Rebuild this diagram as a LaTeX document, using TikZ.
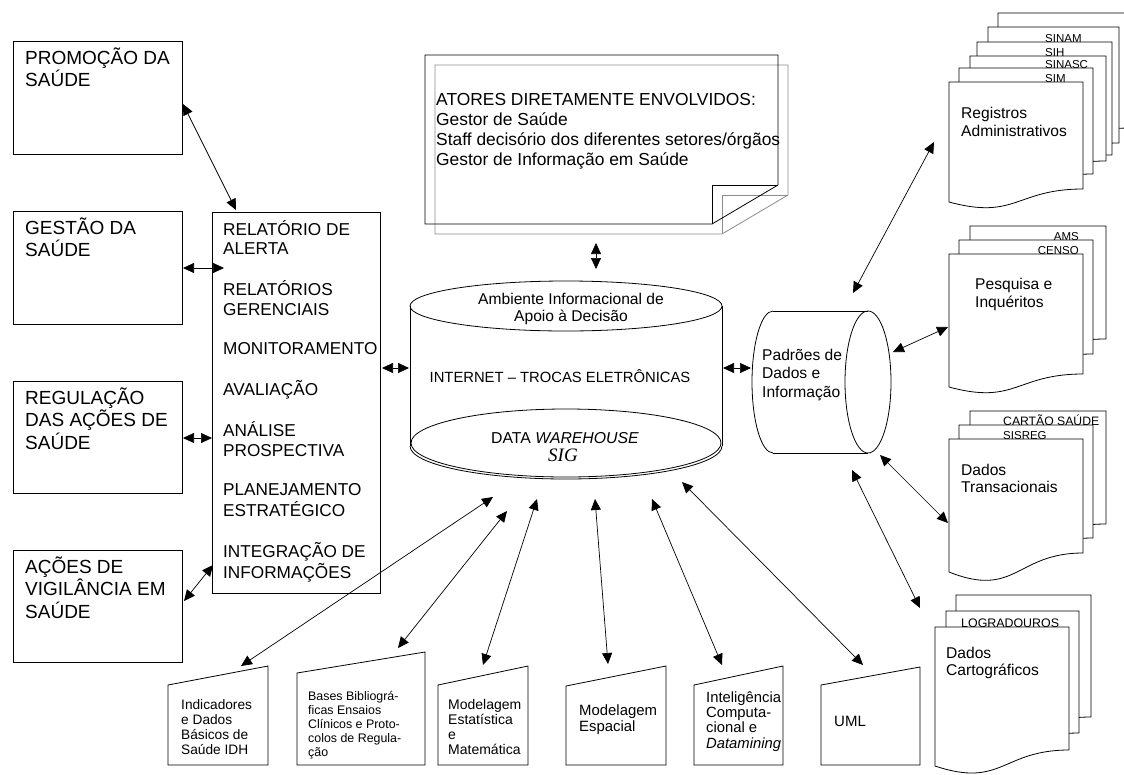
\documentclass[tikz,border=0pt]{standalone}
\usepackage{fontspec}
\setmainfont{Liberation Sans}
\newfontfamily\serifit{Liberation Serif}
\usetikzlibrary{arrows.meta}

\newcommand\fs[2]{\fontsize{#1}{#2}\selectfont}
% multi-line text whose reference point is the baseline of its first line
\newcommand\stack[1]{\begin{tabular}[t]{@{}l@{}}#1\end{tabular}}
\newcommand\cstack[1]{\begin{tabular}[t]{@{}c@{}}#1\end{tabular}}

% one page of a document stack: left, top, right, bottom of right edge, drop of the wavy edge
\newcommand\docpage[5]{%
  \filldraw[page] (#1,#2) -- (#3,#2) -- (#3,#4)
    .. controls ({0.5*(#1+#3)},#4) and ({0.5*(#1+#3)},{#4+2.4*#5}) .. (#1,{#4+#5}) -- cycle;}

% manual-input box: left, top at left, right, top at right, bottom
\newcommand\inputbox[5]{%
  \filldraw[page] (#1,#2) -- (#3,#4) -- (#3,#5) -- (#1,#5) -- cycle;}

\tikzset{
  box/.style={draw, line width=0.8pt, fill=white, inner sep=0pt, anchor=north west},
  txt/.style={inner sep=0pt, anchor=base west},
  ctxt/.style={inner sep=0pt, anchor=base},
  page/.style={fill=white, draw=black, line width=0.8pt},
  outline/.style={draw=black, line width=0.8pt},
  shade/.style={draw=black!45, line width=0.8pt},
  dbl/.style={{Triangle[length=11pt,width=10pt]}-{Triangle[length=11pt,width=10pt]}, line width=0.7pt},
  big/.style={font=\fs{19}{21}},
  listfont/.style={font=\fs{17.2}{19.8}},
  small/.style={font=\fs{11.5}{13}},
}

\begin{document}
\begin{tikzpicture}[x=1pt, y=-1pt]
\useasboundingbox (0,0) rectangle (1124,774);
\fill[white] (0,0) rectangle (1124,774);

% ---------- left column of areas ----------
\node[box, minimum width=169pt, minimum height=113pt] (promo) at (13,41) {};
\node[box, minimum width=169pt, minimum height=113pt] (gestao) at (13,211) {};
\node[box, minimum width=169pt, minimum height=112pt] (regul) at (13,381) {};
\node[box, minimum width=169pt, minimum height=112pt] (acoes) at (13,550) {};
\node[txt, big] (promo-t) at (25,64) {\stack{PROMOÇÃO DA\\SAÚDE}};
\node[txt, big] (gestao-t) at (25,234) {\stack{GESTÃO DA\\SAÚDE}};
\node[txt, big] (regul-t) at (25,404) {\stack{REGULAÇÃO\\DAS AÇÕES DE\\SAÚDE}};
\node[txt, big] (acoes-t) at (25,573) {\stack{AÇÕES DE\\VIGILÂNCIA EM\\SAÚDE}};

% ---------- list of products ----------
\node[box, minimum width=168pt, minimum height=381pt] (lista) at (212,212) {};
\node[txt, listfont] (lista-t) at (223,235) {\stack{RELATÓRIO DE\\ALERTA\\ \\RELATÓRIOS\\GERENCIAIS\\ \\MONITORAMENTO\\ \\AVALIAÇÃO\\ \\ANÁLISE\\PROSPECTIVA\\ \\PLANEJAMENTO\\ESTRATÉGICO\\ \\INTEGRAÇÃO DE\\INFORMAÇÕES}};

% ---------- actors note (folded corner with grey shadow) ----------
\path[shade] (435,65) -- (788,65) -- (788,195) -- (722,234) -- (435,234) -- cycle;
\path[shade] (722,234) -- (722,195) -- (788,195);
\path[outline] (425,55) -- (778,55) -- (778,185) -- (712,224) -- (425,224) -- cycle;
\path[outline] (712,224) -- (712,185) -- (778,185);
\node[txt, font=\fs{17.4}{20}] (atores) at (436,105) {\stack{ATORES DIRETAMENTE ENVOLVIDOS:\\Gestor de Saúde\\Staff decisório dos diferentes setores/órgãos\\Gestor de Informação em Saúde}};

% ---------- central repository (cylinder) ----------
\draw[line width=0.8pt] (410,306) -- (410,446);
\draw[line width=0.8pt] (722,306) -- (722,446);
\draw[line width=0.8pt] (566,306) ellipse [x radius=156pt, y radius=25pt];
\draw[line width=0.8pt] (410,446) arc [start angle=180, end angle=360, x radius=156pt, y radius=33pt];
\draw[line width=0.8pt] (566,443) ellipse [x radius=155pt, y radius=34pt];
\node[ctxt, font=\fs{15.6}{17}] (amb) at (571,304) {\cstack{Ambiente Informacional de\\Apoio à Decisão}};
\node[ctxt, font=\fs{14.8}{17}] (internet) at (560,382) {INTERNET – TROCAS ELETRÔNICAS};
\node[ctxt, font=\fs{15.8}{18}] (dw) at (565,443) {DATA \textit{WAREHOUSE}};
\node[ctxt, font=\fs{19}{20}\serifit\itshape] (sig) at (563,461) {SIG};

% ---------- data standards (horizontal drum) ----------
\draw[line width=0.8pt] (773,311) -- (868,311);
\draw[line width=0.8pt] (773,453) -- (868,453);
\draw[line width=0.8pt] (773,311) arc [start angle=90, end angle=270, x radius=21pt, y radius=71pt];
\draw[line width=0.8pt] (868,382) ellipse [x radius=23pt, y radius=71pt];
\node[txt, font=\fs{15.6}{18.5}] (padroes) at (762,360) {\stack{Padrões de\\Dados e\\Informação}};

% ---------- administrative records ----------
\docpage{998}{13}{1130}{128}{13}
\docpage{988}{27}{1119}{143}{13}
\node[txt, small] (sinam) at (1045,42) {SINAM};
\docpage{977}{42}{1112}{155}{13}
\node[txt, small] (sih) at (1045,56) {SIH};
\docpage{970}{56}{1106}{161}{13}
\node[txt, small] (sinasc) at (1045,68) {SINASC};
\docpage{959}{68}{1093}{174}{13}
\node[txt, small] (sim) at (1045,82) {SIM};
\docpage{949}{82}{1083}{189}{13}
\node[txt, font=\fs{15.6}{18}] (registros) at (961,118) {\stack{Registros\\Administrativos}};

% ---------- surveys ----------
\docpage{970}{226}{1106}{339}{13}
\node[inner sep=0pt, anchor=base east, small] (ams) at (1079,240) {AMS};
\docpage{959}{240}{1093}{354}{13}
\node[inner sep=0pt, anchor=base east, small] (censo) at (1079,254) {CENSO};
\docpage{949}{254}{1083}{374}{13}
\node[txt, font=\fs{15.6}{18}] (pesquisa) at (975,289) {\stack{Pesquisa e\\Inquéritos}};

% ---------- transactional data ----------
\docpage{970}{411}{1106}{524}{15}
\node[txt, font=\fs{12.2}{13}] (cartao) at (1003,425) {CARTÃO SAÚDE};
\docpage{959}{425}{1093}{538}{15}
\node[txt, small] (sisreg) at (1003,439) {SISREG};
\docpage{949}{439}{1083}{553}{19}
\node[txt, font=\fs{15.6}{17}] (transac) at (961,475) {\stack{Dados\\Transacionais}};

% ---------- cartographic data ----------
\docpage{956}{595}{1091}{717}{15}
\docpage{946}{611}{1079}{733}{15}
\node[txt, font=\fs{12.4}{13}] (lograd) at (961,627) {LOGRADOUROS};
\docpage{935}{627}{1069}{750}{16}
\node[txt, font=\fs{15.6}{17}] (cartog) at (946,658) {\stack{Dados\\Cartográficos}};

% ---------- methods and sources along the bottom ----------
\inputbox{168}{685}{268}{666}{765}
\node[txt, font=\fs{13.7}{15.2}] (indic) at (181,709) {\stack{Indicadores\\e Dados\\Básicos de\\Saúde IDH}};
\inputbox{297}{673}{425}{652}{765}
\node[txt, font=\fs{12.4}{14}] (bases) at (308,700) {\stack{Bases Bibliográ-\\ficas Ensaios\\Clínicos e Proto-\\colos de Regula-\\ção}};
\inputbox{438}{685}{528}{666}{765}
\node[txt, font=\fs{14}{15}] (estat) at (448,709) {\stack{Modelagem\\Estatística\\e\\Matemática}};
\inputbox{566}{686}{666}{666}{765}
\node[txt, font=\fs{14.9}{16}] (espacial) at (579,715) {\stack{Modelagem\\Espacial}};
\inputbox{694}{685}{783}{666}{765}
\node[txt, font=\fs{14.8}{15.4}] (intel) at (706,702) {\stack{Inteligência\\Computa-\\cional e\\\textit{Datamining}}};
\inputbox{821}{685}{920}{667}{765}
\node[txt, font=\fs{15}{16}] (uml) at (834,726) {UML};

% ---------- connector end points ----------
\coordinate (promo-r) at (183,104);
\coordinate (lista-top) at (236,210);
\coordinate (gestao-r) at (183,268);
\coordinate (lista-g) at (224,268);
\coordinate (regul-r) at (183,438);
\coordinate (lista-r) at (212,438);
\coordinate (acoes-r) at (184,601);
\coordinate (lista-a) at (213,565);
\coordinate (lista-e) at (382,368);
\coordinate (cyl-w) at (409,368);
\coordinate (atores-s) at (596,243);
\coordinate (cyl-n) at (596,269);
\coordinate (cyl-e) at (723,368);
\coordinate (padroes-w) at (751,368);
\coordinate (padroes-n) at (853,293);
\coordinate (registros-w) at (934,142);
\coordinate (padroes-e) at (893,352);
\coordinate (pesquisa-w) at (948,327);
\coordinate (padroes-se) at (880,455);
\coordinate (transac-w) at (948,523);
\coordinate (padroes-s) at (852,470);
\coordinate (cartog-w) at (920,608);
\coordinate (cyl-s1) at (493,497);
\coordinate (indic-n) at (241,666);
\coordinate (cyl-s2) at (507,511);
\coordinate (bases-n) at (398,648);
\coordinate (cyl-s3) at (537,499);
\coordinate (estat-n) at (483,665);
\coordinate (cyl-s4) at (595,499);
\coordinate (espacial-n) at (608,664);
\coordinate (cyl-s5) at (652,499);
\coordinate (intel-n) at (722,665);
\coordinate (cyl-s6) at (682,482);
\coordinate (uml-n) at (863,665);

% ---------- connectors ----------
\draw[dbl] (promo-r) -- (lista-top);
\draw[dbl] (gestao-r) -- (lista-g);
\draw[dbl] (regul-r) -- (lista-r);
\draw[dbl] (acoes-r) -- (lista-a);
\draw[dbl] (lista-e) -- (cyl-w);
\draw[dbl] (atores-s) -- (cyl-n);
\draw[dbl] (cyl-e) -- (padroes-w);
\draw[dbl] (padroes-n) -- (registros-w);
\draw[dbl] (padroes-e) -- (pesquisa-w);
\draw[dbl] (padroes-se) -- (transac-w);
\draw[dbl] (padroes-s) -- (cartog-w);
\draw[dbl] (cyl-s1) -- (indic-n);
\draw[dbl] (cyl-s2) -- (bases-n);
\draw[dbl] (cyl-s3) -- (estat-n);
\draw[dbl] (cyl-s4) -- (espacial-n);
\draw[dbl] (cyl-s5) -- (intel-n);
\draw[dbl] (cyl-s6) -- (uml-n);
\end{tikzpicture}
\end{document}
